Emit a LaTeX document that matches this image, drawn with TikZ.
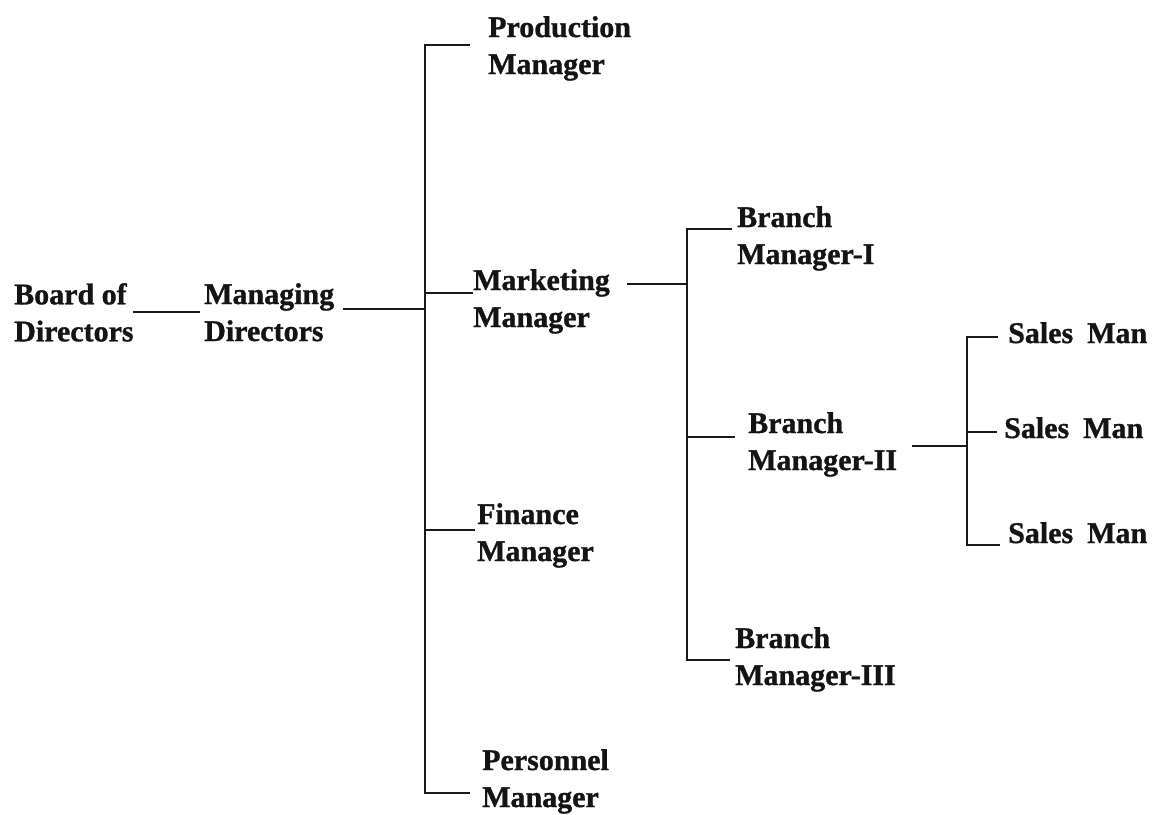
\documentclass[tikz,border=0pt]{standalone}
\usepackage{fontspec}
\setmainfont{Liberation Serif}[BoldFeatures={FakeBold=1}]
\begin{document}
\begin{tikzpicture}[x=1pt,y=-1pt,
  lbl/.style={font=\fontsize{30}{37}\selectfont\bfseries, align=left, inner sep=0pt, anchor=north west, text=black!92},
  conn/.style={line width=2.4pt, draw=black!90}]
\useasboundingbox (0,0) rectangle (1158,814);
% labels
\node[lbl] (bod)  at (14,283)  {Board of\\Directors};
\node[lbl] (md)   at (204,283) {Managing\\Directors};
\node[lbl] (prod) at (488,16)  {Production\\Manager};
\node[lbl] (mkt)  at (473,269) {Marketing\\Manager};
\node[lbl] (fin)  at (477,503) {Finance\\Manager};
\node[lbl] (pers) at (482,749) {Personnel\\Manager};
\node[lbl] (bm1)  at (737,206) {Branch\\Manager-I};
\node[lbl] (bm2)  at (748,412) {Branch\\Manager-II};
\node[lbl] (bm3)  at (735,627) {Branch\\Manager-III};
\node[lbl] (s1)   at (1008,322) {Sales\hspace{14pt}Man};
\node[lbl] (s2)   at (1004,417) {Sales\hspace{14pt}Man};
\node[lbl] (s3)   at (1008,522) {Sales\hspace{14pt}Man};
% junction coordinates
\coordinate (a1) at (133,312); \coordinate (a2) at (200,312);
\coordinate (b1) at (343,309); \coordinate (b2) at (425,309);
\coordinate (vtop) at (425,45); \coordinate (vbot) at (425,793);
\coordinate (tp) at (470,45); \coordinate (tb) at (470,793);
\coordinate (vm) at (425,293); \coordinate (tm) at (473,293);
\coordinate (vf) at (425,530); \coordinate (tf) at (475,530);
\coordinate (c1) at (627,284); \coordinate (c2) at (687,284);
\coordinate (wtop) at (687,229); \coordinate (wbot) at (687,660);
\coordinate (t1) at (732,229); \coordinate (t3) at (730,660);
\coordinate (w2) at (687,437); \coordinate (t2) at (735,437);
\coordinate (d1) at (912,446); \coordinate (d2) at (967,446);
\coordinate (utop) at (967,337); \coordinate (ubot) at (967,545);
\coordinate (u2) at (967,432);
\coordinate (r1) at (998,337); \coordinate (r2) at (997,432); \coordinate (r3) at (1000,545);
% connectors
\draw[conn] (a1) -- (a2);
\draw[conn] (b1) -- (b2);
\draw[conn] (tp) -- (vtop) -- (vbot) -- (tb);
\draw[conn] (vm) -- (tm);
\draw[conn] (vf) -- (tf);
\draw[conn] (c1) -- (c2);
\draw[conn] (t1) -- (wtop) -- (wbot) -- (t3);
\draw[conn] (w2) -- (t2);
\draw[conn] (d1) -- (d2);
\draw[conn] (r1) -- (utop) -- (ubot) -- (r3);
\draw[conn] (u2) -- (r2);
\end{tikzpicture}
\end{document}
